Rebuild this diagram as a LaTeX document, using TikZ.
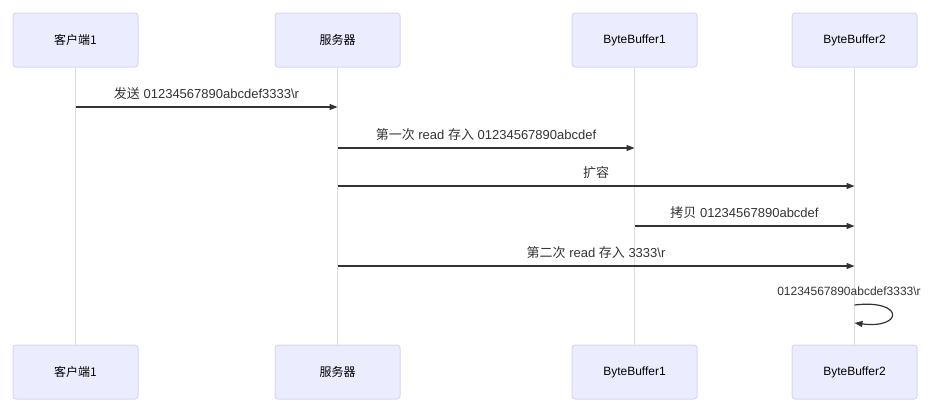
\documentclass[tikz,border=0pt]{standalone}
\usepackage{fontspec}
\setmainfont{Liberation Sans}
\newfontfamily\cjk{Noto Sans CJK SC}
\usetikzlibrary{arrows.meta}
\definecolor{actorfill}{HTML}{ECECFF}
\definecolor{actorline}{HTML}{D6D6F5}
\definecolor{lifegray}{HTML}{DDDDDD}
\definecolor{ink}{HTML}{333333}
\tikzset{
  actor/.style={draw=actorline, fill=actorfill, rounded corners=3pt, line width=1pt,
    minimum width=125pt, minimum height=54pt, font=\fontsize{12}{14}\selectfont, text=black},
  lifeline/.style={draw=lifegray, line width=1pt},
  msg/.style={draw=ink, line width=1.2pt, -{Triangle[length=8pt,width=6pt]}},
  msglabel/.style={above=6pt, font=\fontsize{13}{15}\selectfont, text=ink, inner sep=1pt}
}
\begin{document}
\begin{tikzpicture}[x=1pt,y=-1pt]
    \useasboundingbox (0,0) rectangle (944,416);

    % Participants
    \node[actor] (c1) at (75.5,40) {\cjk 客户端1};
    \node[actor] (sv) at (337.5,40) {\cjk 服务器};
    \node[actor] (bb1) at (634.5,40) {ByteBuffer1};
    \node[actor] (bb2) at (854.5,40) {ByteBuffer2};

    \node[actor] (c1b) at (75.5,372) {\cjk 客户端1};
    \node[actor] (svb) at (337.5,372) {\cjk 服务器};
    \node[actor] (bb1b) at (634.5,372) {ByteBuffer1};
    \node[actor] (bb2b) at (854.5,372) {ByteBuffer2};

    % Lifelines
    \draw[lifeline] (c1) -- (c1b);
    \draw[lifeline] (sv) -- (svb);
    \draw[lifeline] (bb1) -- (bb1b);
    \draw[lifeline] (bb2) -- (bb2b);

    % Messages
    \draw[msg] (c1 |- 0,107) -- (sv |- 0,107)
        node[msglabel, midway] (m1) {{\cjk 发送} 01234567890abcdef3333\textbackslash r};
    \draw[msg] (sv |- 0,148) -- (bb1 |- 0,148)
        node[msglabel, midway] (m2) {{\cjk 第一次} read {\cjk 存入} 01234567890abcdef};
    \draw[msg] (sv |- 0,186) -- (bb2 |- 0,186)
        node[msglabel, midway] (m3) {\cjk 扩容};
    \draw[msg] (bb1 |- 0,226) -- (bb2 |- 0,226)
        node[msglabel, midway] (m4) {{\cjk 拷贝} 01234567890abcdef};
    \draw[msg] (sv |- 0,266) -- (bb2 |- 0,266)
        node[msglabel, midway] (m5) {{\cjk 第二次} read {\cjk 存入} 3333\textbackslash r};

    % Self message
    \node[font=\fontsize{12}{14}\selectfont, text=ink, inner sep=1pt] (m6) at (849,291)
        {01234567890abcdef3333\textbackslash r};
    \draw[msg] (bb2 |- 0,305) .. controls (904,299) and (904,329) .. (bb2 |- 0,323);
\end{tikzpicture}
\end{document}
